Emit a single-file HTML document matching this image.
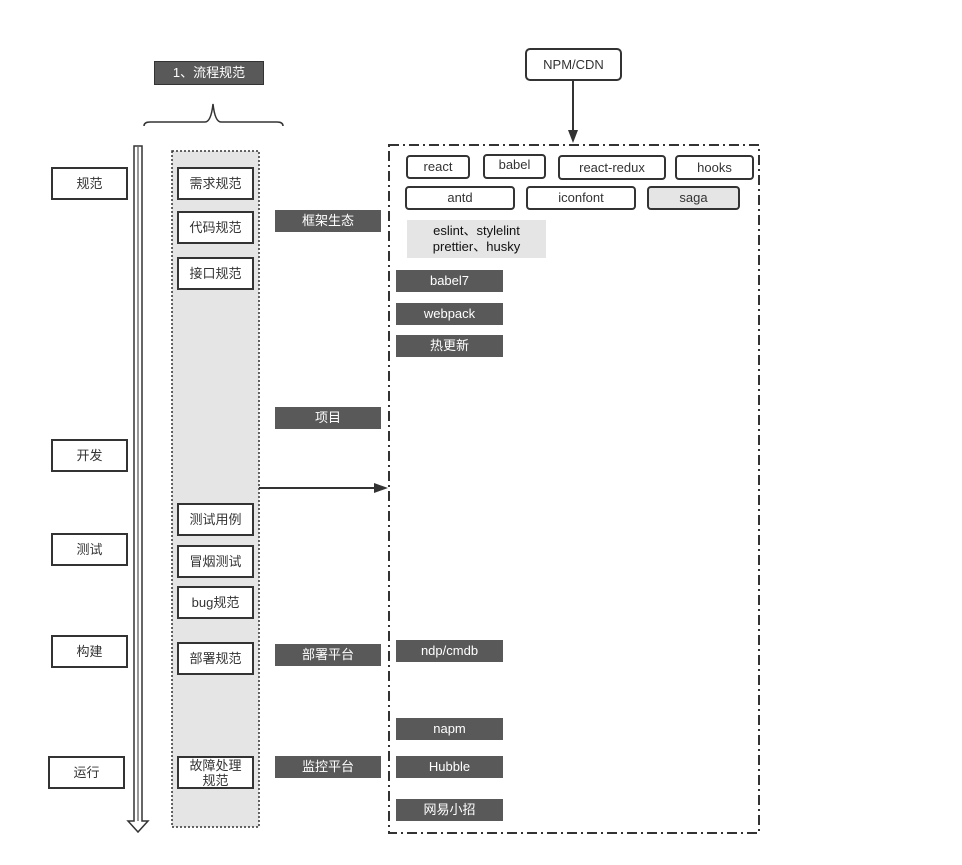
<!DOCTYPE html>
<html><head><meta charset="utf-8"><style>
body{margin:0;width:962px;height:865px;background:#fff;position:relative;overflow:hidden;font-family:"Liberation Sans","Noto Sans CJK SC",sans-serif;font-size:13px;color:#333}
.b{position:absolute;box-sizing:border-box;display:flex;align-items:center;justify-content:center;text-align:center;line-height:16px}
.w{background:#fff;border:2px solid #333}
.d{background:#595959;color:#fff}
.t{background:#fff;border:2px solid #333;border-radius:4px}
svg{position:absolute;left:0;top:0}
</style></head><body>
<svg width="962" height="865">
<rect x="172" y="151" width="87" height="676" fill="#e5e5e5" stroke="#333" stroke-width="1.5" stroke-dasharray="2,2"/>
<rect x="389" y="145" width="370" height="688" fill="none" stroke="#333" stroke-width="2" stroke-dasharray="10,4,2,4"/>
<path d="M144 126 Q144 122 150 122 L205 122 Q211 122 213 104 Q215 122 221 122 L277 122 Q283 122 283 126" fill="none" stroke="#333" stroke-width="1.5"/>
<path d="M134 146 L142 146 L142 821 L148 821 L138 832 L128 821 L134 821 Z" fill="#fff" stroke="#333" stroke-width="1.5"/>
<line x1="138" y1="147" x2="138" y2="821" stroke="#333" stroke-width="1"/>
<line x1="573" y1="81" x2="573" y2="132" stroke="#333" stroke-width="2"/>
<path d="M568 130 L578 130 L573 143 Z" fill="#333"/>
<line x1="259" y1="488" x2="376" y2="488" stroke="#333" stroke-width="2"/>
<path d="M374 483 L388 488 L374 493 Z" fill="#333"/>
</svg>
<div class="b d" style="left:154px;top:61px;width:110px;height:24px;border:1px solid #333">1、流程规范</div>
<div class="b t" style="left:525px;top:48px;width:97px;height:33px;border-radius:5px">NPM/CDN</div>

<div class="b w" style="left:51px;top:167px;width:77px;height:33px">规范</div>
<div class="b w" style="left:51px;top:439px;width:77px;height:33px">开发</div>
<div class="b w" style="left:51px;top:533px;width:77px;height:33px">测试</div>
<div class="b w" style="left:51px;top:635px;width:77px;height:33px">构建</div>
<div class="b w" style="left:48px;top:756px;width:77px;height:33px">运行</div>

<div class="b w" style="left:177px;top:167px;width:77px;height:33px">需求规范</div>
<div class="b w" style="left:177px;top:211px;width:77px;height:33px">代码规范</div>
<div class="b w" style="left:177px;top:257px;width:77px;height:33px">接口规范</div>
<div class="b w" style="left:177px;top:503px;width:77px;height:33px">测试用例</div>
<div class="b w" style="left:177px;top:545px;width:77px;height:33px">冒烟测试</div>
<div class="b w" style="left:177px;top:586px;width:77px;height:33px">bug规范</div>
<div class="b w" style="left:177px;top:642px;width:77px;height:33px">部署规范</div>
<div class="b w" style="left:177px;top:756px;width:77px;height:33px;line-height:15px">故障处理<br>规范</div>

<div class="b d" style="left:275px;top:210px;width:106px;height:22px">框架生态</div>
<div class="b d" style="left:275px;top:407px;width:106px;height:22px">项目</div>
<div class="b d" style="left:275px;top:644px;width:106px;height:22px">部署平台</div>
<div class="b d" style="left:275px;top:756px;width:106px;height:22px">监控平台</div>

<div class="b t" style="left:406px;top:155px;width:64px;height:24px">react</div>
<div class="b t" style="left:483px;top:154px;width:63px;height:25px;padding-bottom:4px">babel</div>
<div class="b t" style="left:558px;top:155px;width:108px;height:25px">react-redux</div>
<div class="b t" style="left:675px;top:155px;width:79px;height:25px">hooks</div>
<div class="b t" style="left:405px;top:186px;width:110px;height:24px">antd</div>
<div class="b t" style="left:526px;top:186px;width:110px;height:24px">iconfont</div>
<div class="b t" style="left:647px;top:186px;width:93px;height:24px;background:#e5e5e5">saga</div>
<div class="b" style="left:407px;top:220px;width:139px;height:38px;background:#e5e5e5;color:#111">eslint、stylelint<br>prettier、husky</div>

<div class="b d" style="left:396px;top:270px;width:107px;height:22px">babel7</div>
<div class="b d" style="left:396px;top:303px;width:107px;height:22px">webpack</div>
<div class="b d" style="left:396px;top:335px;width:107px;height:22px">热更新</div>
<div class="b d" style="left:396px;top:640px;width:107px;height:22px">ndp/cmdb</div>
<div class="b d" style="left:396px;top:718px;width:107px;height:22px">napm</div>
<div class="b d" style="left:396px;top:756px;width:107px;height:22px">Hubble</div>
<div class="b d" style="left:396px;top:799px;width:107px;height:22px">网易小招</div>
</body></html>
